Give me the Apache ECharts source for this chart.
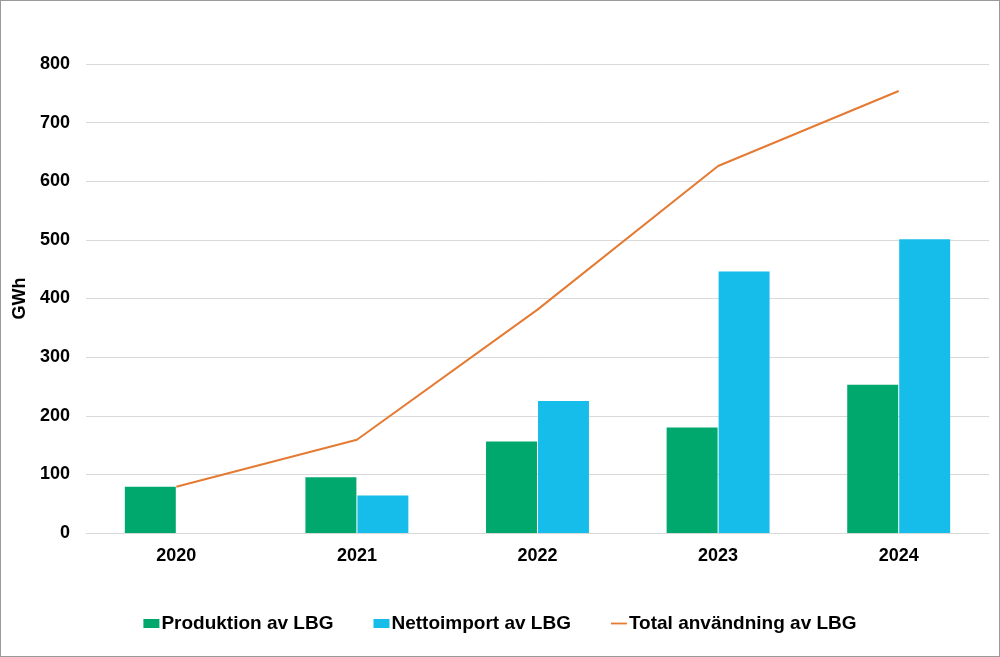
<!DOCTYPE html>
<html>
<head>
<meta charset="utf-8">
<script src="https://cdn.jsdelivr.net/npm/echarts@6/dist/echarts.min.js"></script>
<style>
html,body{margin:0;padding:0;background:#fff;}
#frame{position:absolute;left:0;top:0;width:998px;height:655px;border:1px solid #9a9a9a;}
#chart{width:998px;height:655px;}
</style>
</head>
<body>
<div id="frame"><div id="chart"></div></div>
<script>
const years = ['2020', '2021', '2022', '2023', '2024'];
const produktion = [79, 95, 156, 180, 253];
const nettoimport = [null, 64, 225, 446, 501];
const total = [79, 159, 381, 626, 754];
const yTicks = [0, 100, 200, 300, 400, 500, 600, 700, 800];

const font = '"Liberation Sans", Arial, sans-serif';
const chart = echarts.init(document.getElementById('chart'));
chart.setOption({
  animation: false,
  backgroundColor: '#fff',
  grid: { left: 85, right: 10, top: 63, bottom: 123, containLabel: false },
  legend: {
    bottom: 18,
    left: 'center',
    itemGap: 40,
    itemWidth: 16,
    itemHeight: 9,
    textStyle: { fontFamily: font, fontSize: 19, fontWeight: 'bold', color: '#000', padding: [0, 0, 0, -3] },
    data: [
      { name: 'Produktion av LBG', icon: 'rect' },
      { name: 'Nettoimport av LBG', icon: 'rect' },
      { name: 'Total användning av LBG', icon: 'path://M0,0L18,0L18,2L0,2Z' }
    ]
  },
  xAxis: {
    type: 'category',
    data: years,
    axisLine: { show: true, lineStyle: { color: '#d9d9d9', width: 1 } },
    axisTick: { show: false },
    axisLabel: { margin: 14, fontFamily: font, fontSize: 18, fontWeight: 'bold', color: '#000' }
  },
  yAxis: {
    type: 'value',
    min: yTicks[0],
    max: yTicks[yTicks.length - 1],
    interval: 100,
    name: 'GWh',
    nameLocation: 'middle',
    nameGap: 49,
    nameTextStyle: { fontFamily: font, fontSize: 18, fontWeight: 'bold', color: '#000' },
    axisLine: { show: false },
    axisTick: { show: false },
    axisLabel: { margin: 16, fontFamily: font, fontSize: 18, fontWeight: 'bold', color: '#000' },
    splitLine: { lineStyle: { color: '#d9d9d9', width: 1 } }
  },
  series: [
    {
      name: 'Produktion av LBG',
      type: 'bar',
      data: produktion,
      itemStyle: { color: '#00a86d' },
      barGap: '2%',
      barCategoryGap: '43%'
    },
    {
      name: 'Nettoimport av LBG',
      type: 'bar',
      data: nettoimport,
      itemStyle: { color: '#17bdea' },
      barGap: '2%',
      barCategoryGap: '43%'
    },
    {
      name: 'Total användning av LBG',
      type: 'line',
      data: total,
      symbol: 'none',
      lineStyle: { color: '#e57a32', width: 2 },
      itemStyle: { color: '#e57a32' }
    }
  ]
});
</script>
</body>
</html>
